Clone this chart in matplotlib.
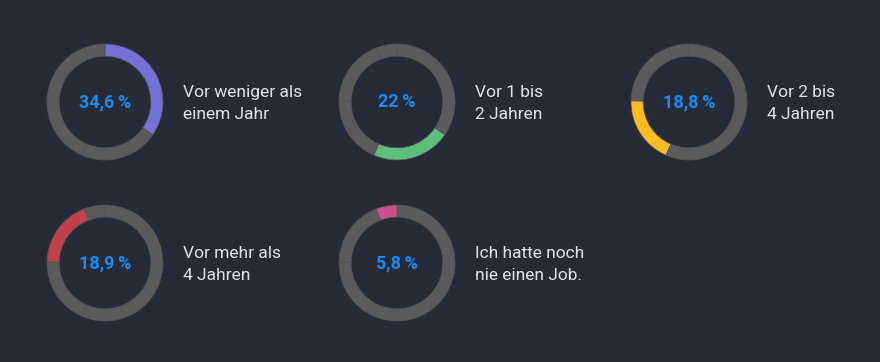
import matplotlib.pyplot as plt

# data
labels = ['Vor weniger als\neinem Jahr', 'Vor 1 bis\n2 Jahren', 'Vor 2 bis\n4 Jahren',
          'Vor mehr als\n4 Jahren', 'Ich hatte noch\nnie einen Job.']
werte = [34.6, 22.0, 18.8, 18.9, 5.8]
texte = ['34,6\u2009%', '22\u2009%', '18,8\u2009%', '18,9\u2009%', '5,8\u2009%']
farben = ['#7471d8', '#5cbf7e', '#fbbb22', '#c2404c', '#c9508b']

# colours / layout
bg = '#272b37'
grau = '#5b5b5b'
naht = '#545454'
blau = '#1a8cf0'
schrift = '#dfe4ea'
W, H = 880, 362
R = 58
zentren = [(105, 102), (397, 102), (689, 102), (105, 263), (397, 263)]

plt.rcParams['font.family'] = ['Roboto', 'DejaVu Sans']

fig = plt.figure(figsize=(W / 100, H / 100), dpi=100)
fig.set_facecolor(bg)

for i, (cx, cy) in enumerate(zentren):
    ax = fig.add_axes([(cx - R) / W, 1 - (cy + R) / H, 2 * R / W, 2 * R / H])
    ax.set_facecolor(bg)
    cols = [grau] * len(werte)
    cols[i] = farben[i]
    ax.pie(werte, colors=cols, startangle=90, counterclock=False,
           wedgeprops=dict(width=0.21, edgecolor=naht, linewidth=0.5))
    ax.set_xlim(-1, 1)
    ax.set_ylim(-1, 1)
    ax.set_aspect('equal')
    ax.axis('off')
    ax.text(0, 0, texte[i], color=blau, fontsize=13, fontweight='bold',
            ha='center', va='center')
    fig.text((cx + 78) / W, 1 - (cy + 1.5) / H, labels[i], color=schrift,
             fontsize=12.5, ha='left', va='center', linespacing=1.55)

fig.savefig('out.png', dpi=100, facecolor=bg)
